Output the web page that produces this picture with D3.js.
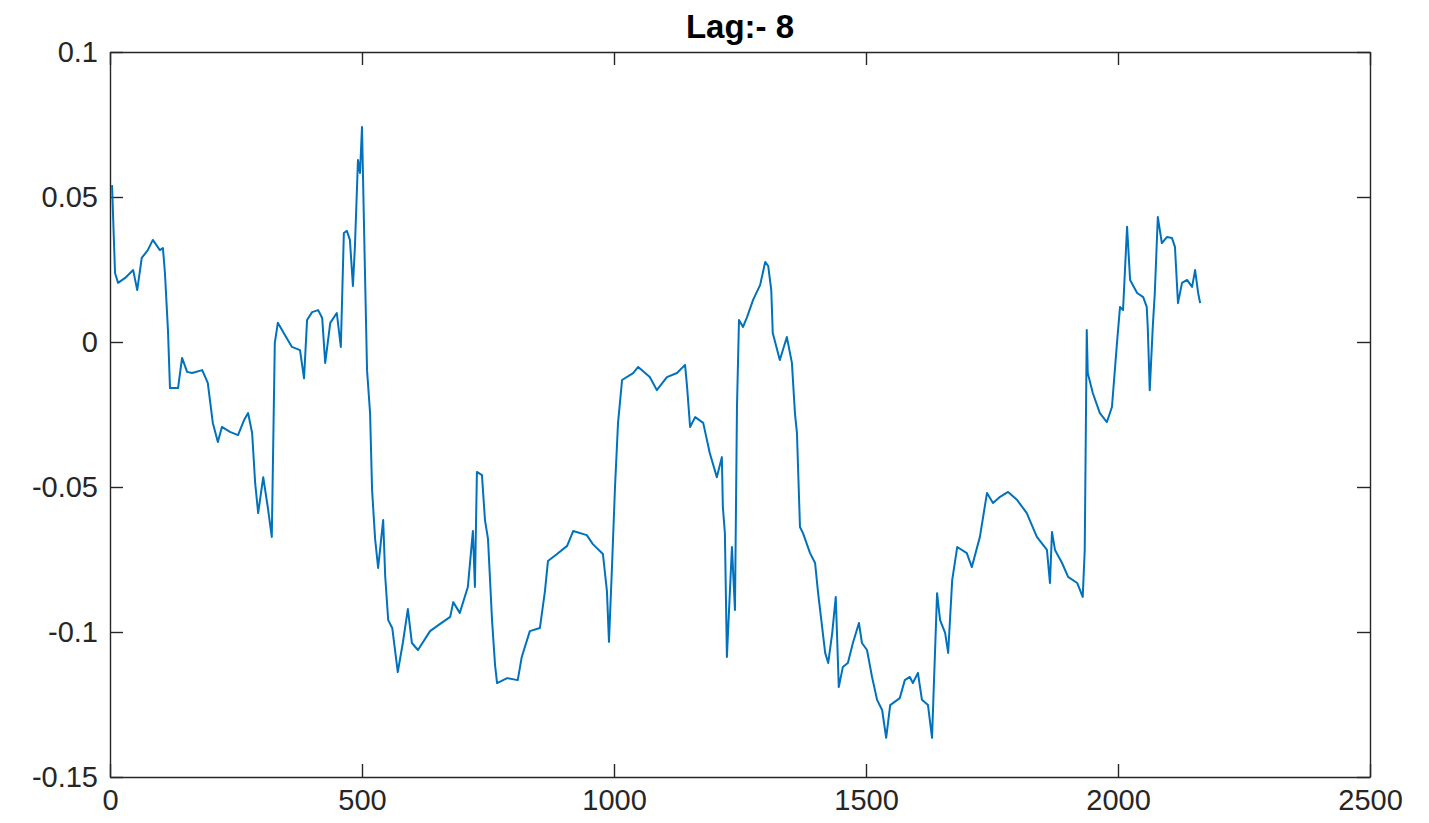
<!DOCTYPE html>
<html>
<head>
<meta charset="utf-8">
<script src="https://cdn.jsdelivr.net/npm/d3@7"></script>
<style>
  body { margin: 0; background: #fff; }
  .axis path, .axis line { stroke: #262626; stroke-width: 1.4; }
  .axis text { font-family: "Liberation Sans", Arial, sans-serif; font-size: 29px; fill: #262626; }
  .title { font-family: "Liberation Sans", Arial, sans-serif; font-size: 33px; font-weight: bold; fill: #000; }
</style>
</head>
<body>
<div class="chart"></div>
<script>
// sample index (x) and lagged correlation value (y)
var sampleIdx = [4,10,16,30,46,54,63,75,85,99,105,109,115,119,135,143,153,163,183,194,
  204,214,222,238,254,266,274,282,288,294,304,313,321,327,333,347,361,377,385,391,
  401,413,421,427,437,450,458,464,470,476,482,486,492,496,500,506,510,516,520,526,
  532,542,546,552,560,571,581,591,599,611,635,655,675,681,694,710,720,724,728,738,
  744,750,758,764,768,788,809,817,833,853,863,869,887,907,919,946,958,978,986,990,
  996,1002,1008,1016,1038,1048,1071,1085,1105,1125,1141,1145,1151,1161,1177,1190,1204,1214,1216,1220,
  1224,1234,1240,1244,1248,1256,1264,1276,1290,1300,1306,1312,1315,1329,1343,1353,1359,1363,1369,1375,
  1389,1399,1405,1419,1425,1433,1440,1446,1454,1464,1474,1486,1492,1502,1512,1522,1532,1540,1548,1567,
  1577,1587,1593,1603,1611,1623,1631,1641,1647,1657,1663,1671,1681,1700,1710,1726,1740,1752,1766,1782,
  1800,1819,1839,1859,1865,1869,1875,1889,1901,1919,1930,1934,1938,1940,1950,1964,1978,1988,1998,2004,
  2010,2018,2024,2038,2050,2057,2059,2063,2069,2073,2079,2087,2097,2107,2113,2119,2127,2137,2147,2153,
  2159,2163];
var lagValue = [0.0541,0.0238,0.0204,0.0221,0.0248,0.0179,0.0290,0.0317,0.0352,0.0317,0.0324,0.0238,0.0041,-0.0159,-0.0159,-0.0055,-0.0103,-0.0107,-0.0097,-0.0141,
  -0.0279,-0.0345,-0.0293,-0.0310,-0.0321,-0.0269,-0.0245,-0.0314,-0.0486,-0.0590,-0.0466,-0.0569,-0.0672,-0.0003,0.0066,0.0024,-0.0017,-0.0028,-0.0125,0.0076,
  0.0103,0.0110,0.0083,-0.0072,0.0066,0.0100,-0.0017,0.0376,0.0383,0.0352,0.0193,0.0331,0.0628,0.0583,0.0741,0.0231,-0.0097,-0.0245,-0.0510,-0.0679,
  -0.0779,-0.0614,-0.0807,-0.0959,-0.0986,-0.1138,-0.1038,-0.0921,-0.1038,-0.1062,-0.0997,-0.0972,-0.0948,-0.0897,-0.0934,-0.0845,-0.0652,-0.0845,-0.0448,-0.0459,
  -0.0614,-0.0679,-0.0959,-0.1114,-0.1176,-0.1159,-0.1166,-0.1086,-0.0997,-0.0986,-0.0859,-0.0755,-0.0731,-0.0703,-0.0652,-0.0666,-0.0697,-0.0731,-0.0859,-0.1034,
  -0.0776,-0.0500,-0.0279,-0.0131,-0.0107,-0.0086,-0.0121,-0.0166,-0.0121,-0.0107,-0.0079,-0.0155,-0.0293,-0.0259,-0.0279,-0.0383,-0.0466,-0.0397,-0.0569,-0.0659,
  -0.1086,-0.0707,-0.0924,-0.0224,0.0076,0.0052,0.0086,0.0145,0.0197,0.0276,0.0262,0.0180,0.0031,-0.0062,0.0017,-0.0072,-0.0245,-0.0314,-0.0638,-0.0659,
  -0.0728,-0.0762,-0.0866,-0.1072,-0.1107,-0.1003,-0.0879,-0.1190,-0.1121,-0.1107,-0.1038,-0.0969,-0.1038,-0.1062,-0.1155,-0.1234,-0.1269,-0.1365,-0.1252,-0.1228,
  -0.1166,-0.1155,-0.1176,-0.1141,-0.1234,-0.1252,-0.1365,-0.0866,-0.0959,-0.1003,-0.1072,-0.0821,-0.0707,-0.0728,-0.0776,-0.0672,-0.0521,-0.0555,-0.0534,-0.0517,
  -0.0545,-0.0590,-0.0672,-0.0717,-0.0831,-0.0655,-0.0717,-0.0762,-0.0810,-0.0831,-0.0879,-0.0717,0.0041,-0.0107,-0.0176,-0.0245,-0.0276,-0.0224,-0.0003,0.0121,
  0.0110,0.0397,0.0214,0.0169,0.0155,0.0121,0.0052,-0.0166,0.0052,0.0169,0.0431,0.0341,0.0362,0.0359,0.0328,0.0134,0.0204,0.0214,0.0190,0.0248,
  0.0169,0.0134];

var xTicks = [0, 500, 1000, 1500, 2000, 2500];
var yTicks = [-0.15, -0.1, -0.05, 0, 0.05, 0.1];
var chartTitle = "Lag:- 8";

var width = 1429, height = 823;
var margin = {top: 52, right: 59, bottom: 46, left: 110};
var w = width - margin.left - margin.right;
var h = height - margin.top - margin.bottom;

var svg = d3.select(".chart").append("svg")
  .attr("width", width)
  .attr("height", height);

var g = svg.append("g")
  .attr("transform", "translate(" + margin.left + "," + margin.top + ")");

var x = d3.scaleLinear().domain([0, 2500]).range([0, w]);
var y = d3.scaleLinear().domain([-0.15, 0.1]).range([h, 0]);

var fmt = function(d) { return String(d); };
var tick = 13;

g.append("g").attr("class", "axis")
  .attr("transform", "translate(0," + h + ")")
  .call(d3.axisBottom(x).tickValues(xTicks).tickFormat(fmt).tickSize(-tick).tickSizeOuter(0).tickPadding(12));

g.append("g").attr("class", "axis")
  .call(d3.axisTop(x).tickValues(xTicks).tickFormat("").tickSize(-tick).tickSizeOuter(0));

g.append("g").attr("class", "axis")
  .call(d3.axisLeft(y).tickValues(yTicks).tickFormat(fmt).tickSize(-tick).tickSizeOuter(0).tickPadding(12));

g.append("g").attr("class", "axis")
  .attr("transform", "translate(" + w + ",0)")
  .call(d3.axisRight(y).tickValues(yTicks).tickFormat("").tickSize(-tick).tickSizeOuter(0));

var points = sampleIdx.map(function(d, i) { return [d, lagValue[i]]; });

var line = d3.line()
  .x(function(d) { return x(d[0]); })
  .y(function(d) { return y(d[1]); });

g.append("path")
  .datum(points)
  .attr("fill", "none")
  .attr("stroke", "#0072BD")
  .attr("stroke-width", 2)
  .attr("stroke-linejoin", "round")
  .attr("d", line);

svg.append("text")
  .attr("class", "title")
  .attr("x", margin.left + w / 2)
  .attr("y", 38)
  .attr("text-anchor", "middle")
  .text(chartTitle);
</script>
</body>
</html>
